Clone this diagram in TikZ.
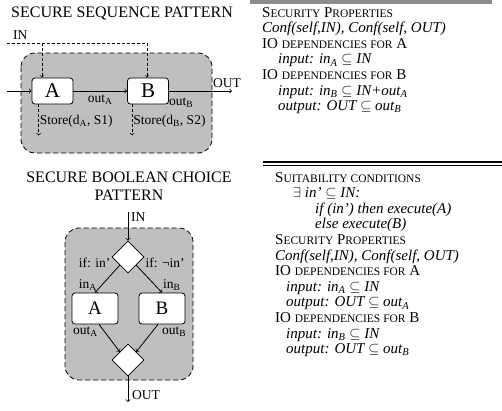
\documentclass[tikz,border=0pt]{standalone}
\usepackage{fontspec}
\setmainfont{Liberation Serif}
\usetikzlibrary{arrows,positioning,calc,shapes.geometric}
\tikzset{pane/.style={draw, thick, dash pattern=on 5pt off 3pt, fill=gray!50, rounded corners=14}}
\tikzset{blk/.style={draw, thick, rounded corners=3, fill=white, minimum width=41, minimum height=26, inner sep=0, font=\fontsize{21}{21}\selectfont}}
\tikzset{choice/.style={diamond, draw, thick, fill=white, minimum width=32, minimum height=32, inner sep=0}}
\tikzset{arr/.style={draw, ->, line width=0.8pt}}
\tikzset{darr/.style={draw, ->, line width=0.7pt, dash pattern=on 3pt off 2pt}}
\tikzset{lbl/.style={font=\fontsize{13.5}{14}\selectfont, inner sep=1pt}}
\tikzset{ttl/.style={font=\fontsize{16}{18}\selectfont, align=center}}
\tikzset{txt/.style={font=\fontsize{15}{15.6}\selectfont, align=left, inner sep=0}}
\newcommand{\smc}[1]{{\fontsize{11.5}{11.5}\selectfont #1}}

\begin{document}
\begin{tikzpicture}[x=1pt, y=-1pt]
    \useasboundingbox (0,0) rectangle (502,410);

    % sequence pattern
    \node[ttl] (ttlseq) at (122,13) {SECURE SEQUENCE PATTERN};
    \draw[pane] (21,53) rectangle (212,153);
    \node[blk] (A) at (52.5,91) {A};
    \node[blk] (B) at (148,91) {B};
    \coordinate (in) at (7,91);
    \coordinate (out) at (232,91);
    \coordinate (inL) at (7,43);
    \coordinate (tapA) at (42,43);
    \coordinate (tapB) at (147,43);
    \node[lbl, anchor=west] (IN) at (12,35) {IN};
    \draw[darr, -] (inL) -- (tapB);
    \draw[darr] (tapA) -- (tapA |- A.north);
    \draw[darr] (tapB) -- (tapB |- B.north);
    \draw[arr] (in) -- (A);
    \draw[arr] (A) -- node[lbl, below=2pt] (outA) {out\textsubscript{A}} (B);
    \draw[arr] (B) -- (out);
    \node[lbl, anchor=west] (outB) at (168,103) {out\textsubscript{B}};
    \node[lbl, anchor=west] (OUT) at (212,83) {OUT};
    \draw[darr] ($(A.south west)+(7,0)$) -- ++(0,31) node[lbl, pos=0.55, anchor=west] (stA) {Store(d\textsubscript{A}, S1)};
    \draw[darr] ($(B.south west)+(5,0)$) -- ++(0,31) node[lbl, pos=0.55, anchor=west] (stB) {Store(d\textsubscript{B}, S2)};

    % boolean choice pattern
    \node[ttl] (ttlbool) at (129,186) {SECURE BOOLEAN CHOICE\\PATTERN};
    \draw[pane] (65,228) rectangle (193,380);
    \node[choice] (D1) at (128,257) {};
    \node[choice] (D2) at (128,360) {};
    \node[blk, minimum width=46, minimum height=31, font=\fontsize{19}{19}\selectfont] (A2) at (95,308.5) {A};
    \node[blk, minimum width=46, minimum height=31, font=\fontsize{19}{19}\selectfont] (B2) at (162,308.5) {B};
    \coordinate (in2) at (128,212);
    \coordinate (out2) at (128,402);
    \draw[arr] (in2) -- (D1.north);
    \node[lbl, anchor=west] (IN2) at (130,217) {IN};
    \node[lbl, anchor=north east] (ifA) at (D1.west) {if: in'};
    \node[lbl, anchor=north west] (ifB) at (D1.east) {if: \textlnot in'};
    \draw[arr] (D1.south west) -- (A2.north);
    \draw[arr] (D1.south east) -- (B2.north);
    \node[lbl, anchor=east] (inA) at (98,285) {in\textsubscript{A}};
    \node[lbl, anchor=west] (inB) at (162,285) {in\textsubscript{B}};
    \draw[arr] ([xshift=4]A2.south) -- (D2.north west);
    \draw[arr] ([xshift=-4]B2.south) -- (D2.north east);
    \node[lbl, anchor=west] (outA2) at (72,332) {out\textsubscript{A}};
    \node[lbl, anchor=west] (outB2) at (161,332) {out\textsubscript{B}};
    \draw[arr] (D2.south) -- (out2);
    \node[lbl, anchor=west] (OUT2) at (131,395) {OUT};

    % property texts
    \fill[gray!90] (250,0) rectangle (492,3.5);
    \node[txt, anchor=north west] (props) at (262,7) {S\smc{ECURITY} P\smc{ROPERTIES}\\
        \textit{Conf(self,IN), Conf(self, OUT)}\\
        IO \smc{DEPENDENCIES FOR} A\\
        \hspace*{16pt}\textit{input: in\textsubscript{A} $\subseteq$ IN}\\
        IO \smc{DEPENDENCIES FOR} B\\
        \hspace*{16pt}\textit{input: in\textsubscript{B} $\subseteq$ IN+out\textsubscript{A}}\\
        \hspace*{16pt}\textit{output: OUT $\subseteq$ out\textsubscript{B}}};
    \draw[line width=1.8pt] (263,162) -- (502,162);
    \draw[line width=0.8pt] (263,165.5) -- (502,165.5);
    \node[txt, anchor=north west] (suit) at (275,172) {S\smc{UITABILITY CONDITIONS}\\
        \hspace*{18pt}$\exists$\textit{ in' $\subseteq$ IN:}\\
        \hspace*{40pt}\textit{if (in') then execute(A)}\\
        \hspace*{40pt}\textit{else execute(B)}\\
        S\smc{ECURITY} P\smc{ROPERTIES}\\
        \textit{Conf(self,IN), Conf(self, OUT)}\\
        IO \smc{DEPENDENCIES FOR} A\\
        \hspace*{11pt}\textit{input: in\textsubscript{A} $\subseteq$ IN}\\
        \hspace*{11pt}\textit{output: OUT $\subseteq$ out\textsubscript{A}}\\
        IO \smc{DEPENDENCIES FOR} B\\
        \hspace*{11pt}\textit{input: in\textsubscript{B} $\subseteq$ IN}\\
        \hspace*{11pt}\textit{output: OUT $\subseteq$ out\textsubscript{B}}};
\end{tikzpicture}
\end{document}
